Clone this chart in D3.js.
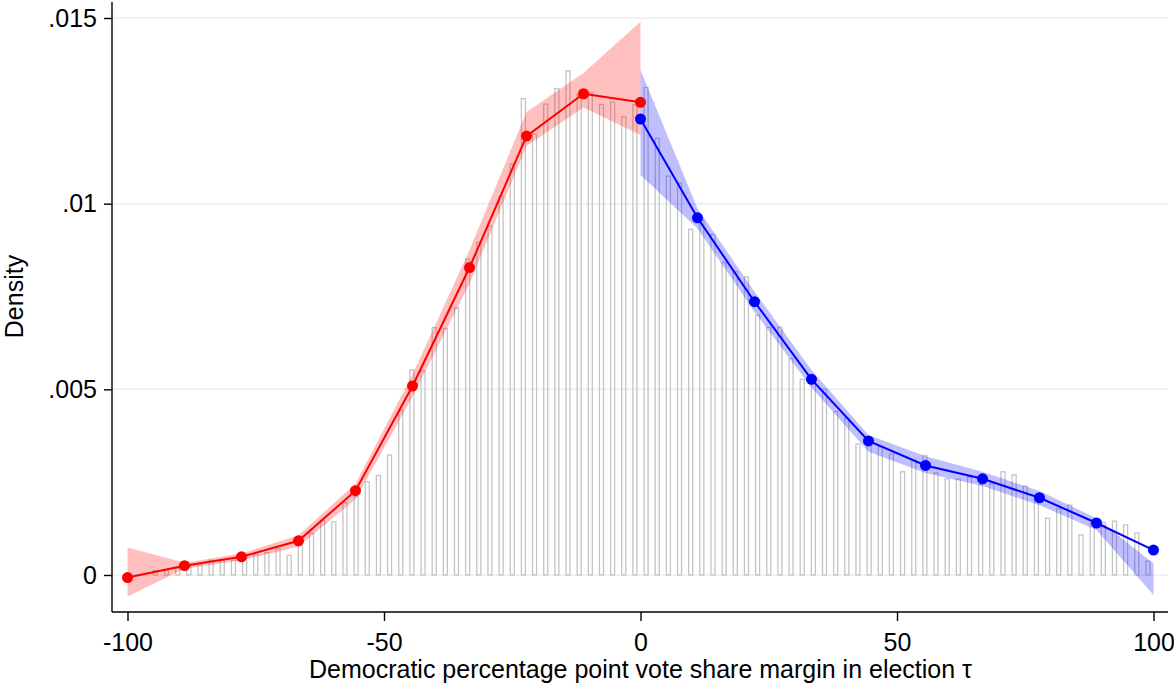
<!DOCTYPE html>
<html>
<head>
<meta charset="utf-8">
<script src="https://cdn.jsdelivr.net/npm/d3@7"></script>
<style>
  body { margin: 0; background: #fff; }
  svg { display: block; font-family: "Liberation Sans", Arial, Helvetica, sans-serif; }
  .grid line { stroke: #e7eef1; stroke-width: 1.5; }
  .axis path, .axis line { stroke: #000; stroke-width: 1.4; }
  .axis text { font-size: 25px; fill: #000; }
  .axisLabel { font-size: 25px; fill: #000; }
  .bar { fill: none; stroke: #c4c4c4; stroke-width: 1.3; }
</style>
</head>
<body>
<div id="chart"></div>
<script>
// Histogram of vote share margin with binned RD density estimates (left: red, right: blue)

// histogram: 92 equal bins from -100 to 100, density (x 0.001)
const binCount = 92;
const histDensity = [
  0, 0, 0.12, 0.13, 0.18, 0.27, 0.27, 0.40, 0.40, 0.40,
  0.54, 0.56, 0.60, 0.71, 0.53, 0.86, 1.12, 1.46, 1.43, 1.95,
  2.11, 2.51, 2.68, 3.23, 4.44, 5.52, 5.50, 6.66, 6.64, 7.20,
  8.51, 8.96, 9.40, 10.20, 11.06, 12.83, 11.87, 12.68, 13.10, 13.58,
  12.95, 12.99, 12.67, 12.73, 12.34, 12.67, 13.13, 11.76, 10.74, 10.55,
  9.31, 9.55, 9.17, 8.42, 8.17, 8.03, 7.00, 6.67, 6.67, 5.83,
  5.27, 5.18, 5.00, 4.40, 4.22, 3.53, 3.55, 3.45, 3.26, 2.78,
  3.10, 3.21, 2.75, 2.59, 2.58, 2.64, 2.43, 2.45, 2.78, 2.70,
  2.39, 2.12, 1.53, 1.78, 1.88, 1.08, 1.39, 1.42, 1.45, 1.35,
  1.13, 0.37
];

// left side (red) estimates, x 0.001
const leftX     = [-100, -88.89, -77.78, -66.67, -55.56, -44.44, -33.33, -22.22, -11.11, 0];
const leftEst   = [-0.07, 0.25, 0.49, 0.92, 2.27, 5.09, 8.28, 11.82, 12.96, 12.73];
const leftLo    = [-0.58, 0.17, 0.40, 0.76, 2.04, 4.80, 7.85, 11.55, 12.59, 11.85];
const leftHi    = [0.74, 0.33, 0.58, 1.07, 2.46, 5.40, 8.75, 12.47, 13.52, 14.90];

// right side (blue) estimates, x 0.001
const rightX    = [0, 11.11, 22.22, 33.33, 44.44, 55.56, 66.67, 77.78, 88.89, 100];
const rightEst  = [12.28, 9.62, 7.36, 5.27, 3.61, 2.95, 2.59, 2.08, 1.40, 0.67];
const rightLo   = [10.77, 9.33, 7.09, 5.05, 3.32, 2.75, 2.40, 1.88, 1.21, -0.54];
const rightHi   = [13.60, 9.87, 7.63, 5.52, 3.77, 3.20, 2.78, 2.26, 1.53, 0.31];

const xTicks = [-100, -50, 0, 50, 100];
const xTickLabels = ["-100", "-50", "0", "50", "100"];
const yTicks = [0, 0.005, 0.01, 0.015];
const yTickLabels = ["0", ".005", ".01", ".015"];

const W = 1174, H = 687;
const plot = { left: 112, right: 1168, top: 2, bottom: 612 };

const svg = d3.select("#chart").append("svg")
  .attr("width", W).attr("height", H);

const x = d3.scaleLinear().domain([-100, 100]).range([127.5, 1153.5]);
const y = d3.scaleLinear().domain([0, 0.015]).range([575, 18]);

// gridlines
svg.append("g").attr("class", "grid")
  .selectAll("line").data(yTicks).join("line")
  .attr("x1", plot.left).attr("x2", plot.right)
  .attr("y1", d => y(d)).attr("y2", d => y(d));

// histogram bars (narrow outlined bars centred in each bin)
const binW = 200 / binCount;
const barFrac = 0.36;
const bins = histDensity.map((v, i) => ({ x0: -100 + i * binW, v: v / 1000 }))
  .filter(d => d.v > 0);
svg.append("g").selectAll("rect").data(bins).join("rect")
  .attr("class", "bar")
  .attr("x", d => x(d.x0 + binW * (1 - barFrac) / 2))
  .attr("width", d => x(d.x0 + binW * (1 + barFrac) / 2) - x(d.x0 + binW * (1 - barFrac) / 2))
  .attr("y", d => y(d.v))
  .attr("height", d => y(0) - y(d.v));

function toPoints(xs, est, lo, hi) {
  return xs.map((xv, i) => ({ x: xv, e: est[i] / 1000, lo: lo[i] / 1000, hi: hi[i] / 1000 }));
}

const sides = [
  { pts: toPoints(leftX, leftEst, leftLo, leftHi), color: "#ff0000" },
  { pts: toPoints(rightX, rightEst, rightLo, rightHi), color: "#0000ff" }
];

// confidence bands
sides.forEach(s => {
  svg.append("path").datum(s.pts)
    .attr("d", d3.area().x(d => x(d.x)).y0(d => y(d.lo)).y1(d => y(d.hi)))
    .style("fill", s.color).style("fill-opacity", 0.25);
});

// lines and markers
sides.forEach(s => {
  svg.append("path").datum(s.pts)
    .attr("d", d3.line().x(d => x(d.x)).y(d => y(d.e)))
    .style("fill", "none").style("stroke", s.color).style("stroke-width", 2);
  svg.append("g").selectAll("circle").data(s.pts).join("circle")
    .attr("cx", d => x(d.x)).attr("cy", d => y(d.e)).attr("r", 5.5)
    .style("fill", s.color);
});

// axes
const xAxis = svg.append("g").attr("class", "axis")
  .attr("transform", `translate(0,${plot.bottom})`)
  .call(d3.axisBottom(x).tickValues(xTicks).tickSize(9).tickPadding(12)
    .tickFormat((d, i) => xTickLabels[i]));
xAxis.select(".domain").attr("d", `M${plot.left},0H${plot.right}`);

const yAxis = svg.append("g").attr("class", "axis")
  .attr("transform", `translate(${plot.left},0)`)
  .call(d3.axisLeft(y).tickValues(yTicks).tickSize(8).tickPadding(7)
    .tickFormat((d, i) => yTickLabels[i]));
yAxis.select(".domain").attr("d", `M0,${plot.top}V${plot.bottom}`);

svg.append("text").attr("class", "axisLabel")
  .attr("x", (x(-100) + x(100)) / 2).attr("y", 678)
  .attr("text-anchor", "middle")
  .text("Democratic percentage point vote share margin in election τ");

svg.append("text").attr("class", "axisLabel")
  .attr("transform", "rotate(-90)")
  .attr("x", -(y(0) + y(0.015)) / 2).attr("y", 23)
  .attr("text-anchor", "middle")
  .text("Density");
</script>
</body>
</html>
